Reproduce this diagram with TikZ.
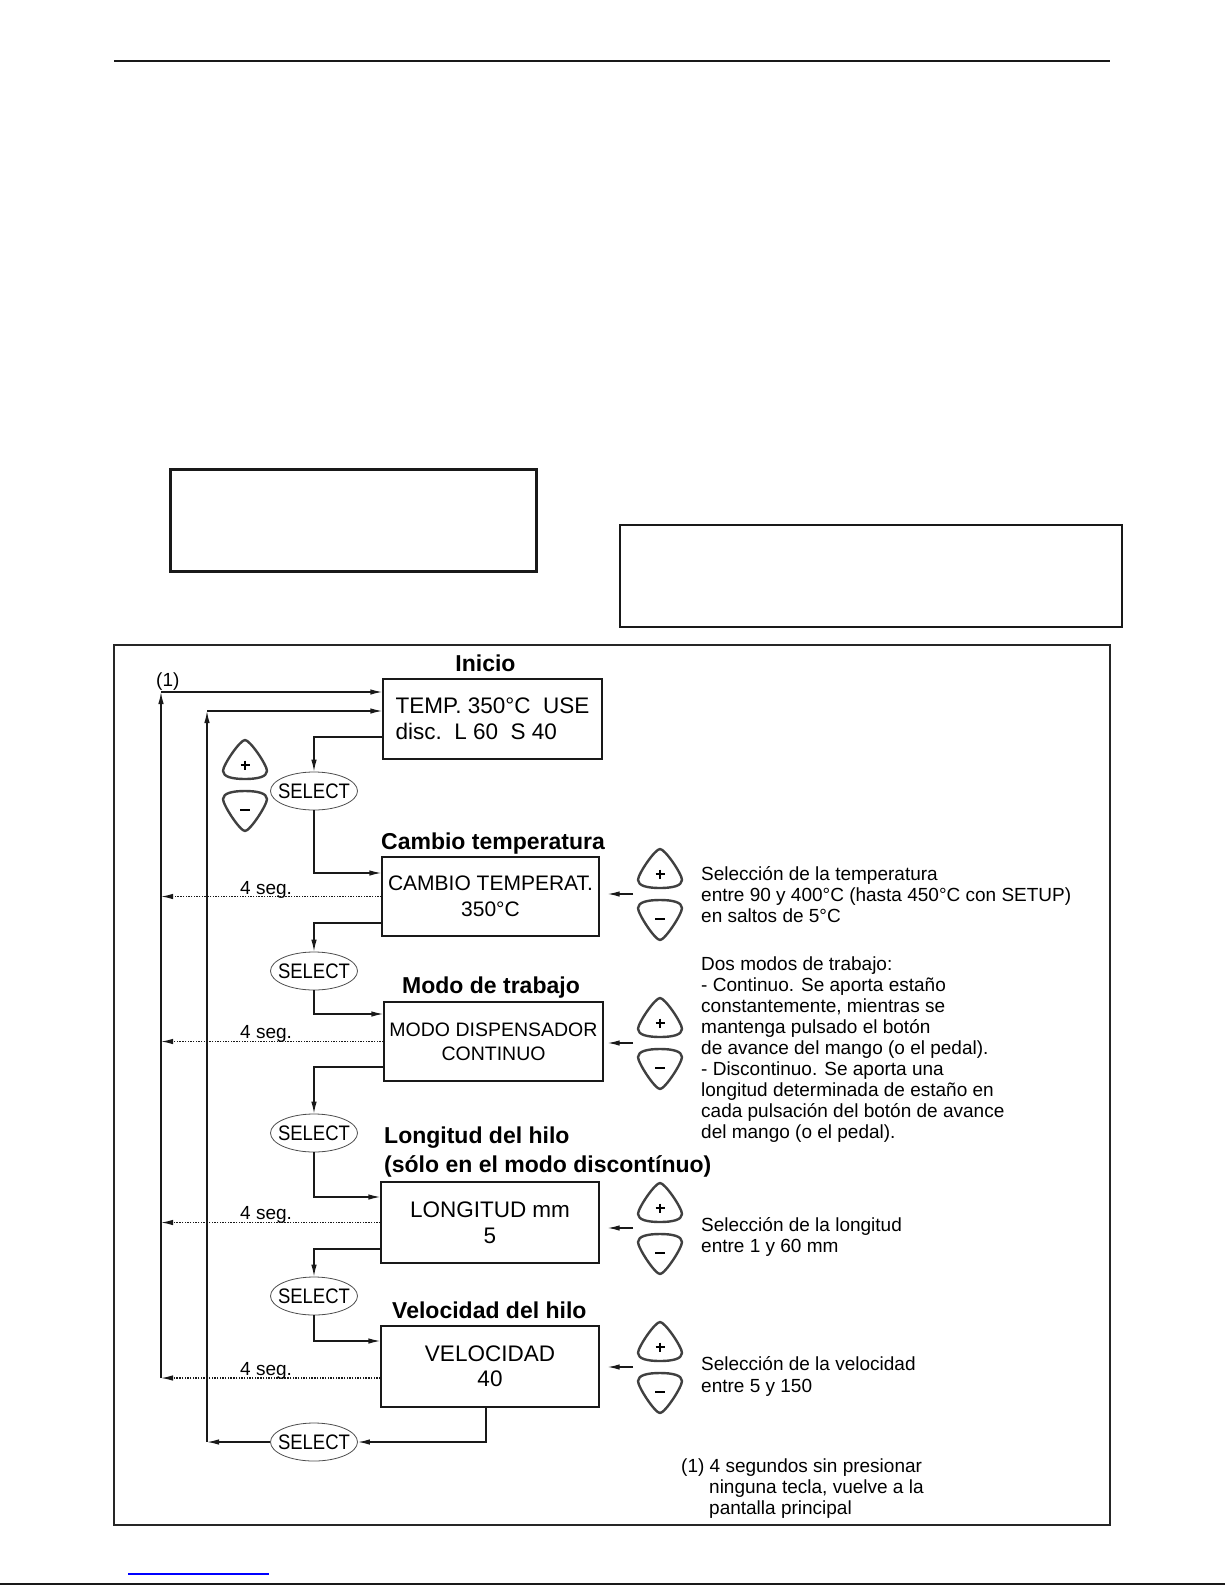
\documentclass[tikz,border=0pt]{standalone}
\usepackage{fontspec}
\setmainfont{Liberation Sans}
\newfontfamily\selfont[FakeStretch=0.88]{Liberation Sans}
\usetikzlibrary{shapes.geometric,arrows.meta,calc}
\tikzset{
  conn/.style={line width=1.3pt, draw=black!90},
  arr/.style={conn, -{Latex[length=12pt,width=5.5pt]}},
  dots/.style={line width=1.3pt, draw=black!90, dash pattern=on 1.4pt off 1.3pt, -{Latex[length=12pt,width=5.5pt]}},
  lcd/.style={draw=black!90, line width=1.3pt, rectangle, inner sep=0pt, align=center},
  sel/.style={ellipse, draw=black!70, line width=0.8pt, minimum width=87pt, minimum height=38pt, inner sep=0pt, font=\selfont\fontsize{21}{21}\selectfont},
  ttl/.style={font=\bfseries\fontsize{23}{27}\selectfont, inner sep=0pt},
  small/.style={font=\fontsize{19}{21}\selectfont, inner sep=0pt, anchor=base west},
  btn/.style={draw=black!75, line width=2.4pt, line join=round},
  btnpair/.pic={
    \draw[btn] (0,-45) .. controls (5,-45) and (22,-20) .. (22,-14) .. controls (22,-8) and (12,-6) .. (0,-6) .. controls (-12,-6) and (-22,-8) .. (-22,-14) .. controls (-22,-20) and (-5,-45) .. (0,-45) -- cycle;
    \draw[btn] (0,46) .. controls (5,46) and (22,20) .. (22,14) .. controls (22,8) and (12,6) .. (0,6) .. controls (-12,6) and (-22,8) .. (-22,14) .. controls (-22,20) and (-5,46) .. (0,46) -- cycle;
    \draw[line width=1.3pt] (-4.5,-20) -- (4.5,-20) (0,-24.5) -- (0,-15.5);
    \draw[line width=1.6pt] (-5,25) -- (5,25);
  }
}
\begin{document}
\begin{tikzpicture}[x=1pt,y=-1pt]
\useasboundingbox (0,0) rectangle (1225,1585);
% page decorations
\draw[line width=2pt, black!90] (114,61) -- (1110,61);
\draw[line width=3pt, black!90] (170,469) rectangle (536,571);
\draw[line width=1.8pt, black!90] (620,525) rectangle (1122,627);
\draw[line width=1.2pt, blue] (128,1574) -- (269,1574);
\draw[line width=1.5pt, black!90] (0,1584) -- (1225,1584);
% frame
\draw[line width=1.3pt, black!85] (114,645) rectangle (1110,1525);

% titles
\node[ttl, anchor=base] (tIni) at (485.5,671) {Inicio};
\node[ttl, anchor=base west] (tCam) at (381,849) {Cambio temperatura};
\node[ttl, anchor=base west] (tMod) at (402,993) {Modo de trabajo};
\node[ttl, anchor=base west] (tLon1) at (384,1143) {Longitud del hilo};
\node[ttl, anchor=base west] (tLon2) at (384,1172) {(sólo en el modo discontínuo)};
\node[ttl, anchor=base west] (tVel) at (392,1318) {Velocidad del hilo};

% display boxes
\node[lcd, minimum width=219pt, minimum height=80pt, align=left, font=\fontsize{22.5}{26}\selectfont] (ini) at (492.5,719) {TEMP.~350°C~~USE\\disc.~~L~60~~S~40};
\node[lcd, minimum width=217pt, minimum height=79pt, font=\fontsize{21}{26}\selectfont] (cam) at (490.5,896.5) {CAMBIO TEMPERAT.\\350°C};
\node[lcd, minimum width=219pt, minimum height=79pt, font=\fontsize{19.5}{24}\selectfont] (modo) at (493.5,1041.5) {MODO DISPENSADOR\\CONTINUO};
\node[lcd, minimum width=218pt, minimum height=81pt, font=\fontsize{22.5}{26}\selectfont] (lon) at (490,1222.5) {LONGITUD mm\\5};
\node[lcd, minimum width=218pt, minimum height=81pt, font=\fontsize{22.5}{25}\selectfont] (vel) at (490,1366.5) {VELOCIDAD\\40};

% select ellipses
\node[sel] (s1) at (314,791) {\makebox[0pt]{SELECT}};
\node[sel] (s2) at (314,971) {\makebox[0pt]{SELECT}};
\node[sel] (s3) at (314,1133) {\makebox[0pt]{SELECT}};
\node[sel] (s4) at (314,1296) {\makebox[0pt]{SELECT}};
\node[sel] (s5) at (314,1442) {\makebox[0pt]{SELECT}};

% buttons
\coordinate (g0) at (245,785);
\coordinate (g1) at (660,894);
\coordinate (g2) at (660,1043);
\coordinate (g3) at (660,1228);
\coordinate (g4) at (660,1367);
\foreach \g in {g0,g1,g2,g3,g4} { \pic at (\g) {btnpair}; }

% rails
\coordinate (rAt) at (161,692);
\coordinate (rAb) at (161,1378);
\coordinate (rBt) at (207,711);
\coordinate (rBb) at (207,1442);
\node[small] (one) at (156,686) {(1)};

% main flow
\draw[arr] (ini.west |- 0,737) -| (s1.north);
\draw[arr] (s1.south) |- (cam.west |- 0,873);
\draw[arr] (cam.west |- 0,923) -| (s2.north);
\draw[arr] (s2.south) |- (modo.west |- 0,1014);
\draw[arr] (modo.west |- 0,1067) -| (s3.north);
\draw[arr] (s3.south) |- (lon.west |- 0,1197);
\draw[arr] (lon.west |- 0,1249) -| (s4.north);
\draw[arr] (s4.south) |- (vel.west |- 0,1341);
\draw[arr] ([xshift=-4pt]vel.south) |- (s5.east);
\draw[arr] (s5.west) -- (rBb);
\draw[arr] (rBb) -- (rBt);
\draw[arr] (rBt) -- (rBt -| ini.west);
\draw[arr] (rAb) -- (rAt);
\draw[arr] (rAt) -- (rAt -| ini.west);

% timeouts
\draw[dots] (cam.west) -- (cam.west -| rAt);
\draw[dots] (modo.west) -- (modo.west -| rAt);
\draw[dots] (lon.west) -- (lon.west -| rAt);
\draw[dots] (vel.west |- rAb) -- (rAb);
\node[small] (w1) at (240,894) {4 seg.};
\node[small] (w2) at (240,1038) {4 seg.};
\node[small] (w3) at (240,1219) {4 seg.};
\node[small] (w4) at (240,1375) {4 seg.};

% +/- arrows into boxes
\draw[arr] ($(g1)+(-27,0)$) -- ($(cam.east |- g1)+(8,0)$);
\draw[arr] ($(g2)+(-27,0)$) -- ($(modo.east |- g2)+(4,0)$);
\draw[arr] ($(g3)+(-27,0)$) -- ($(lon.east |- g3)+(8,0)$);
\draw[arr] ($(g4)+(-27,0)$) -- ($(vel.east |- g4)+(8,0)$);

% descriptions
\foreach \t [count=\i from 0] in {{Selección de la temperatura},{entre 90 y 400°C (hasta 450°C con SETUP)},{en saltos de 5°C}}
  \node[small] (dc\i) at (701,880+21*\i) {\t};
\foreach \t [count=\i from 0] in {{Dos modos de trabajo:},{- Continuo. Se aporta estaño},{constantemente, mientras se},{mantenga pulsado el botón},{de avance del mango (o el pedal).},{- Discontinuo. Se aporta una},{longitud determinada de estaño en},{cada pulsación del botón de avance},{del mango (o el pedal).}}
  \node[small] (dm\i) at (701,970.8+21*\i) {\t};
\node[small] (dl0) at (701,1231.5) {Selección de la longitud};
\node[small] (dl1) at (701,1252.5) {entre 1 y 60 mm};
\node[small] (dv0) at (701,1370.5) {Selección de la velocidad};
\node[small] (dv1) at (701,1392.3) {entre 5 y 150};
\node[small] (f0) at (681,1472.3) {(1) 4 segundos sin presionar};
\node[small] (f1) at (709,1493.5) {ninguna tecla, vuelve a la};
\node[small] (f2) at (709,1514.8) {pantalla principal};
\end{tikzpicture}
\end{document}
